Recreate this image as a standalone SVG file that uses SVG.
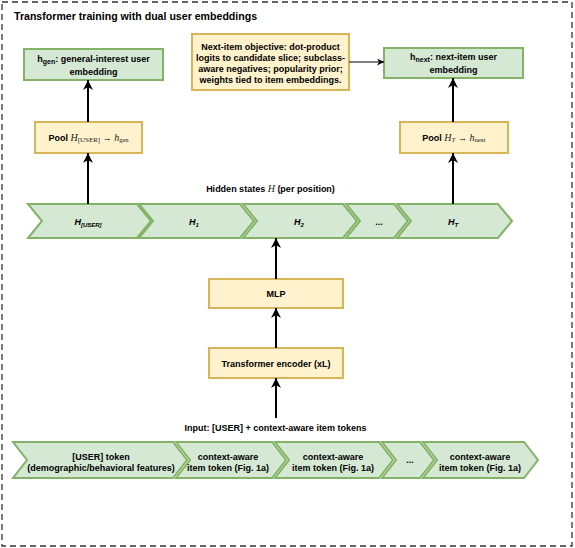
<svg xmlns="http://www.w3.org/2000/svg" width="575" height="548" viewBox="0 0 575 548">
<style>
text{font-family:"Liberation Sans",Arial,sans-serif;font-weight:bold;font-size:9px;fill:#000}
.t{font-size:10.6px}
.m{font-family:"Liberation Serif","Times New Roman",serif;font-weight:normal;font-style:italic;fill:#222}
.ms{font-family:"Liberation Serif","Times New Roman",serif;font-weight:normal;font-style:normal;fill:#222}
.i{font-style:italic}
.g{fill:#d5e8d4;stroke:#82b366;stroke-width:2}
.y{fill:#fff2cc;stroke:#d6b656;stroke-width:2}
.c{stroke:#000;stroke-width:2;fill:none;marker-end:url(#ah)}
.c1{stroke:#000;stroke-width:1;fill:none;marker-end:url(#ahs)}
</style>
<defs>
<marker id="ah" viewBox="0 0 10 10" refX="10" refY="5" markerWidth="10" markerHeight="10" markerUnits="userSpaceOnUse" orient="auto"><path d="M0,0 L10,5 L0,10 L3,5 Z" fill="#000"/></marker>
<marker id="ahs" viewBox="0 0 10 10" refX="10" refY="5" markerWidth="7" markerHeight="7" markerUnits="userSpaceOnUse" orient="auto"><path d="M0,0 L10,5 L0,10 L3,5 Z" fill="#000"/></marker>
</defs>
<rect x="2" y="2" width="570" height="544" fill="#fff" stroke="#333" stroke-width="1.3" stroke-dasharray="6 4"/>
<text class="t" x="14" y="20">Transformer training with dual user embeddings</text>

<g id="hgen"><rect class="g" x="24" y="49" width="139" height="31"/>
<text x="93.5" y="62" text-anchor="middle">h<tspan font-size="7" dy="2">gen</tspan><tspan dy="-2">: general-interest user</tspan></text>
<text x="93.5" y="74.5" text-anchor="middle">embedding</text></g>

<g id="objective"><rect class="y" x="192" y="34" width="157" height="56"/>
<text x="270.5" y="50" text-anchor="middle">Next-item objective: dot-product</text>
<text x="270.5" y="61" text-anchor="middle">logits to candidate slice; subclass-</text>
<text x="270.5" y="72" text-anchor="middle">aware negatives; popularity prior;</text>
<text x="270.5" y="83" text-anchor="middle">weights tied to item embeddings.</text></g>

<g id="hnext"><rect class="g" x="384" y="48" width="139" height="30"/>
<text x="453.5" y="60" text-anchor="middle">h<tspan font-size="7" dy="2">next</tspan><tspan dy="-2">: next-item user</tspan></text>
<text x="453.5" y="73" text-anchor="middle">embedding</text></g>

<g id="poolgen"><rect class="y" x="35" y="122" width="107" height="31"/>
<text x="88.5" y="140.5" text-anchor="middle">Pool <tspan class="m" font-size="10">H</tspan><tspan class="ms" font-size="7" dy="1.5">[USER]</tspan><tspan dy="-1.5"> → </tspan><tspan class="m" font-size="10">h</tspan><tspan class="ms" font-size="6.5" dy="1.5">gen</tspan></text></g>

<g id="poolnext"><rect class="y" x="400" y="122" width="108" height="31"/>
<text x="454" y="140.5" text-anchor="middle">Pool <tspan class="m" font-size="10">H</tspan><tspan class="m" font-size="7" dy="1.5">T</tspan><tspan dy="-1.5"> → </tspan><tspan class="m" font-size="10">h</tspan><tspan class="ms" font-size="6.5" dy="1.5">next</tspan></text></g>

<g id="hidden-label"><text x="270.5" y="192" text-anchor="middle">Hidden states <tspan class="m" font-size="10">H</tspan> (per position)</text></g>

<g id="h-user"><polygon class="g" points="28,204 137,204 151,221 137,238 28,238 42,221"/>
<text class="i" x="88" y="224.5" text-anchor="middle">H<tspan font-size="6" dy="2">[USER]</tspan></text></g>
<g id="h-1"><polygon class="g" points="139,204 240,204 254,221 240,238 139,238 153,221"/>
<text class="i" x="194" y="224.5" text-anchor="middle">H<tspan font-size="6" dy="2">1</tspan></text></g>
<g id="h-2"><polygon class="g" points="243,204 343,204 357,221 343,238 243,238 257,221"/>
<text class="i" x="299" y="224.5" text-anchor="middle">H<tspan font-size="6" dy="2">2</tspan></text></g>
<g id="h-dots"><polygon class="g" points="346,204 394,204 408,221 394,238 346,238 360,221"/>
<text x="379" y="224.5" text-anchor="middle">...</text></g>
<g id="h-T"><polygon class="g" points="397,204 498,204 512,221 498,238 397,238 411,221"/>
<text class="i" x="453" y="224.5" text-anchor="middle">H<tspan font-size="6" dy="2">T</tspan></text></g>

<g id="mlp"><rect class="y" x="209" y="279" width="134" height="29"/>
<text x="276" y="297" text-anchor="middle">MLP</text></g>
<g id="encoder"><rect class="y" x="209" y="348" width="134" height="30"/>
<text x="276" y="366.5" text-anchor="middle">Transformer encoder (xL)</text></g>

<g id="input-label"><text x="275.5" y="430.5" text-anchor="middle">Input: [USER] + context-aware item tokens</text></g>

<g id="tok-user"><polygon class="g" points="13,442 173,442 187,460 173,478 13,478 27,460"/>
<text x="101" y="459.5" text-anchor="middle">[USER] token</text>
<text x="101" y="470.5" text-anchor="middle">(demographic/behavioral features)</text></g>
<g id="tok-1"><polygon class="g" points="176,442 272,442 286,460 272,478 176,478 190,460"/>
<text x="228" y="459.5" text-anchor="middle">context-aware</text>
<text x="228" y="470.5" text-anchor="middle">item token (Fig. 1a)</text></g>
<g id="tok-2"><polygon class="g" points="275,442 379,442 393,460 379,478 275,478 289,460"/>
<text x="333" y="459.5" text-anchor="middle">context-aware</text>
<text x="333" y="470.5" text-anchor="middle">item token (Fig. 1a)</text></g>
<g id="tok-dots"><polygon class="g" points="382,442 420,442 434,460 420,478 382,478 396,460"/>
<text x="410" y="463" text-anchor="middle">...</text></g>
<g id="tok-T"><polygon class="g" points="423,442 524,442 538,460 524,478 423,478 437,460"/>
<text x="480" y="459.5" text-anchor="middle">context-aware</text>
<text x="480" y="470.5" text-anchor="middle">item token (Fig. 1a)</text></g>

<g id="connectors">
<line class="c" x1="88" y1="122" x2="88" y2="80"/>
<line class="c" x1="88" y1="204" x2="88" y2="153"/>
<line class="c" x1="453" y1="122" x2="453" y2="78"/>
<line class="c" x1="453" y1="204" x2="453" y2="153"/>
<line class="c" x1="276" y1="279" x2="276" y2="238"/>
<line class="c" x1="276" y1="348" x2="276" y2="308"/>
<line class="c" x1="276" y1="418" x2="276" y2="378"/>
<line class="c1" x1="349" y1="62" x2="384" y2="62"/>
</g>
</svg>
